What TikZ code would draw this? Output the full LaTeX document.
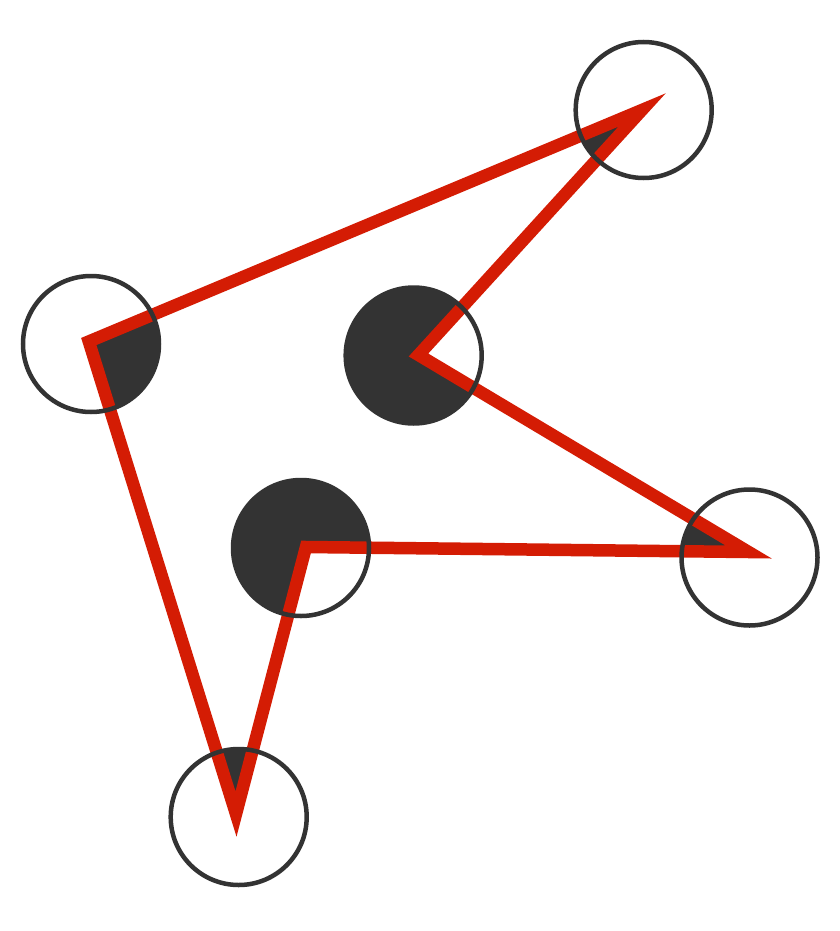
\documentclass[tikz,border=0pt]{standalone}
\usepackage{tikz}
\definecolor{polyred}{RGB}{212,28,4}
\definecolor{darkgray}{RGB}{51,51,51}
\tikzset{
  redline/.style={draw=polyred,line width=12.5pt,line join=miter,miter limit=10},
  ringline/.style={draw=darkgray,line width=4.5pt},
  wedgefill/.style={fill=darkgray}
}
\begin{document}
\begin{tikzpicture}[x=1pt,y=-1pt]
\useasboundingbox[fill=white] (0,0) rectangle (840,931);
% polygon vertices
\coordinate (pTR) at (642,110);
\coordinate (pL)  at (88.8,341.5);
\coordinate (pB)  at (236,814);
\coordinate (pC2) at (306,547);
\coordinate (pR)  at (748.6,552);
\coordinate (pC1) at (418.5,355);
% circle centres
\coordinate (cTR) at (643.7,110);
\coordinate (cL)  at (91,344);
\coordinate (cB)  at (238.7,817);
\coordinate (cC2) at (301,548);
\coordinate (cR)  at (749.5,557.5);
\coordinate (cC1) at (413.7,355.5);
% interior wedges
\foreach \c in {cTR,cL,cB,cC2,cR,cC1}{
  \begin{scope}
    \clip (\c) circle[radius=68];
    \fill[wedgefill] (pTR) -- (pL) -- (pB) -- (pC2) -- (pR) -- (pC1) -- cycle;
  \end{scope}
}
% red polygon
\draw[redline] (pTR) -- (pL) -- (pB) -- (pC2) -- (pR) -- (pC1) -- cycle;
% rings
\foreach \c in {cTR,cL,cB,cC2,cR,cC1}{
  \draw[ringline] (\c) circle[radius=68];
}
\end{tikzpicture}
\end{document}
